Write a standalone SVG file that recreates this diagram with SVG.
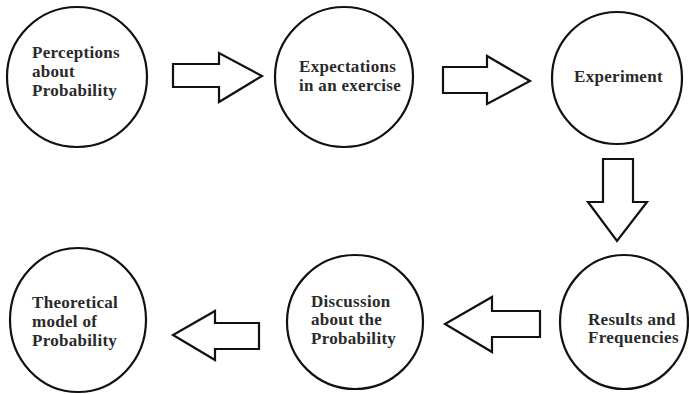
<svg xmlns="http://www.w3.org/2000/svg" width="689" height="394" viewBox="0 0 689 394">
<style>
.node ellipse{fill:#fff;stroke:#111;stroke-width:2.2}
.node text{font-family:"Liberation Serif","Times New Roman",serif;font-weight:bold;font-size:17px;letter-spacing:0.3px;fill:#2a2a2a}
.arrow{fill:#fff;stroke:#111;stroke-width:2.2;stroke-linejoin:miter}
</style>
<rect width="689" height="394" fill="#fff"/>
<g id="n1" class="node">
<ellipse cx="77" cy="77" rx="70" ry="70"/>
<text x="32" y="58">Perceptions</text>
<text x="32" y="77">about</text>
<text x="32" y="96">Probability</text>
</g>
<g id="n2" class="node">
<ellipse cx="344" cy="77" rx="69" ry="70"/>
<text x="299" y="72">Expectations</text>
<text x="299" y="91">in an exercise</text>
</g>
<g id="n3" class="node">
<ellipse cx="617" cy="78" rx="65" ry="66"/>
<text x="574" y="82">Experiment</text>
</g>
<g id="n4" class="node">
<ellipse cx="624" cy="322" rx="64" ry="67"/>
<text x="588" y="325">Results and</text>
<text x="588" y="343">Frequencies</text>
</g>
<g id="n5" class="node">
<ellipse cx="355" cy="322" rx="68" ry="67"/>
<text x="311" y="307">Discussion</text>
<text x="311" y="325">about the</text>
<text x="311" y="344">Probability</text>
</g>
<g id="n6" class="node">
<ellipse cx="78" cy="320" rx="68" ry="72"/>
<text x="32" y="308">Theoretical</text>
<text x="32" y="327">model of</text>
<text x="32" y="346">Probability</text>
</g>
<g id="connectors">
<polygon class="arrow" points="173,64 219,64 219,53 262,76 219,102 219,87 173,87"/>
<polygon class="arrow" points="443,67 487,67 487,56 530,81 487,104 487,93 443,93"/>
<polygon class="arrow" points="603,159 633,159 633,202 647,202 617,241 588,202 603,202"/>
<polygon class="arrow" points="540,311 492,311 492,297 445,324 492,352 492,337 540,337"/>
<polygon class="arrow" points="259,323 215,323 215,311 173,335 215,360 215,349 259,349"/>
</g>
</svg>
